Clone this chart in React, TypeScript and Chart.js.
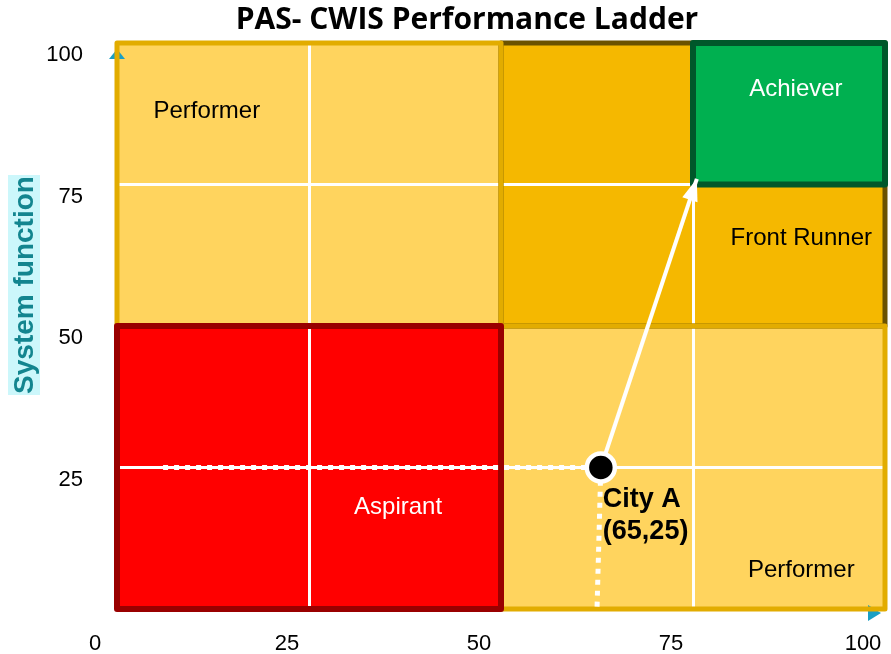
import React, { useEffect, useRef } from 'react';
import { Chart, registerables } from 'chart.js';

Chart.register(...registerables);

// ---- data ----
const chartTitle = 'PAS- CWIS Performance Ladder';
const yAxisTitle = 'System function';
const xTickLabels = ['0', '25', '50', '75', '100'];
const yTickLabels = ['', '25', '50', '75', '100'];
const gridValues = [25, 75];

const zoneNames = ['Front Runner', 'Performer', 'Performer', 'Aspirant', 'Achiever'];
const zoneXMin = [50, 0, 50, 0, 75];
const zoneXMax = [100, 50, 100, 50, 100];
const zoneYMin = [50, 50, 0, 0, 75];
const zoneYMax = [100, 100, 50, 50, 100];
const zoneLabelX = [89.1, 11.7, 89.1, 36.6, 88.4];
const zoneLabelY = [65.5, 88.0, 6.9, 18.0, 91.8];

const cityName = 'City A';
const cityLabel = '(65,25)';
const cityX = [63];
const cityY = [25];
const guideX = [6, 63, 62.5];
const guideY = [25, 25, 0];
const arrowX = [63, 75.5];
const arrowY = [25, 76];

// ---- styles ----
const zoneFill = ['#F5B800', '#FFD45E', '#FFD45E', '#FF0000', '#00B050'];
const zoneStroke = ['#6B5200', '#E2AC00', '#E2AC00', '#990000', '#00572A'];
const zoneStrokeW = [5, 5, 5, 6, 6];
const zoneTextColor = ['#000000', '#000000', '#000000', '#FFFFFF', '#FFFFFF'];
const LABEL_FONT = '"Liberation Sans", Arial, sans-serif';

const topZone = zoneNames.indexOf('Achiever');

function zoneRect(chart: any, i: number) {
  const { x, y } = chart.scales;
  const x0 = x.getPixelForValue(zoneXMin[i]);
  const x1 = x.getPixelForValue(zoneXMax[i]);
  const y0 = y.getPixelForValue(zoneYMax[i]);
  const y1 = y.getPixelForValue(zoneYMin[i]);
  return [x0, y0, x1 - x0, y1 - y0];
}

function fillZone(ctx: CanvasRenderingContext2D, chart: any, i: number) {
  const [rx, ry, rw, rh] = zoneRect(chart, i);
  ctx.fillStyle = zoneFill[i];
  ctx.fillRect(rx, ry, rw, rh);
}

function strokeZone(ctx: CanvasRenderingContext2D, chart: any, i: number) {
  const [rx, ry, rw, rh] = zoneRect(chart, i);
  ctx.strokeStyle = zoneStroke[i];
  ctx.lineWidth = zoneStrokeW[i];
  ctx.lineJoin = 'round';
  ctx.strokeRect(rx, ry, rw, rh);
}

const ladderPlugin = {
  id: 'ladder',
  beforeDraw(chart: any) {
    const ctx: CanvasRenderingContext2D = chart.ctx;
    ctx.save();
    for (let i = 0; i < zoneNames.length; i++) {
      if (i === topZone) continue;
      fillZone(ctx, chart, i);
    }
    ctx.restore();
  },
  beforeDatasetsDraw(chart: any) {
    const ctx: CanvasRenderingContext2D = chart.ctx;
    const area = chart.chartArea;
    ctx.save();
    // axis arrow heads
    ctx.fillStyle = '#1A9FC4';
    ctx.beginPath();
    ctx.moveTo(area.left, area.top + 6);
    ctx.lineTo(area.left - 8, area.top + 16);
    ctx.lineTo(area.left + 8, area.top + 16);
    ctx.closePath();
    ctx.fill();
    ctx.beginPath();
    ctx.moveTo(area.right - 4, area.bottom + 4);
    ctx.lineTo(area.right - 17, area.bottom - 4);
    ctx.lineTo(area.right - 17, area.bottom + 12);
    ctx.closePath();
    ctx.fill();
    for (let i = 0; i < zoneNames.length; i++) {
      if (i === topZone) continue;
      strokeZone(ctx, chart, i);
    }
    fillZone(ctx, chart, topZone);
    strokeZone(ctx, chart, topZone);
    ctx.restore();
  },
  afterDatasetsDraw(chart: any) {
    const ctx: CanvasRenderingContext2D = chart.ctx;
    const { x, y } = chart.scales;
    ctx.save();
    // arrow head
    const meta = chart.getDatasetMeta(1);
    const p0 = meta.data[0];
    const p1 = meta.data[meta.data.length - 1];
    const ang = Math.atan2(p1.y - p0.y, p1.x - p0.x);
    const len = 22;
    const hw = 8;
    ctx.fillStyle = '#FFFFFF';
    ctx.beginPath();
    ctx.moveTo(p1.x, p1.y);
    ctx.lineTo(
      p1.x - len * Math.cos(ang) + hw * Math.sin(ang),
      p1.y - len * Math.sin(ang) - hw * Math.cos(ang)
    );
    ctx.lineTo(
      p1.x - len * Math.cos(ang) - hw * Math.sin(ang),
      p1.y - len * Math.sin(ang) + hw * Math.cos(ang)
    );
    ctx.closePath();
    ctx.fill();

    // zone labels
    ctx.font = `24px ${LABEL_FONT}`;
    ctx.textAlign = 'center';
    ctx.textBaseline = 'middle';
    for (let i = 0; i < zoneNames.length; i++) {
      ctx.fillStyle = zoneTextColor[i];
      ctx.fillText(zoneNames[i], x.getPixelForValue(zoneLabelX[i]), y.getPixelForValue(zoneLabelY[i]));
    }

    // city label
    const cx = x.getPixelForValue(cityX[0]);
    const cy = y.getPixelForValue(cityY[0]);
    ctx.font = `bold 27px ${LABEL_FONT}`;
    ctx.fillStyle = '#000000';
    ctx.textAlign = 'left';
    ctx.fillText(cityName, cx + 2, cy + 32);
    ctx.fillText(cityLabel, cx + 2, cy + 64);

    // chart title
    ctx.font = 'bold 30px "Open Sans", sans-serif';
    ctx.textAlign = 'center';
    ctx.fillText(chartTitle, 467, 20);

    // y axis title with background
    ctx.fillStyle = '#CCF7FB';
    ctx.fillRect(8, 175, 32, 220);
    ctx.translate(24, 285);
    ctx.rotate(-Math.PI / 2);
    ctx.font = `bold 28px ${LABEL_FONT}`;
    ctx.fillStyle = '#13858F';
    ctx.fillText(yAxisTitle, 0, 1);
    ctx.restore();
  },
};

const gridColor = (c: any) =>
  c.tick && gridValues.includes(c.tick.value) ? '#FFFFFF' : 'rgba(0,0,0,0)';

export default function App() {
  const ref = useRef<HTMLCanvasElement>(null);

  useEffect(() => {
    if (!ref.current) return;
    const chart = new Chart(ref.current, {
      type: 'scatter',
      data: {
        datasets: [
          {
            label: cityName,
            data: cityX.map((v, i) => ({ x: v, y: cityY[i] })),
            pointRadius: 14,
            pointBackgroundColor: '#000000',
            pointBorderColor: '#FFFFFF',
            pointBorderWidth: 4.5,
            showLine: false,
          },
          {
            label: 'arrow',
            data: arrowX.map((v, i) => ({ x: v, y: arrowY[i] })),
            showLine: true,
            borderColor: '#FFFFFF',
            borderWidth: 4,
            pointRadius: 0,
          },
          {
            label: 'guide',
            data: guideX.map((v, i) => ({ x: v, y: guideY[i] })),
            showLine: true,
            borderColor: '#FFFFFF',
            borderWidth: 5,
            borderDash: [5, 6],
            pointRadius: 0,
          },
        ],
      },
      options: {
        animation: false,
        responsive: true,
        maintainAspectRatio: false,
        events: [],
        layout: { autoPadding: false, padding: { top: 43, right: 6, left: 0, bottom: 0 } },
        plugins: {
          legend: { display: false },
          tooltip: { enabled: false },
          title: { display: false },
        },
        scales: {
          x: {
            type: 'linear',
            min: 0,
            max: 100,
            afterFit: (s: any) => {
              s.height = 45;
              s.paddingLeft = 0;
              s.paddingRight = 0;
            },
            border: { display: false },
            grid: { color: gridColor, lineWidth: 3, drawTicks: false },
            ticks: {
              stepSize: 25,
              padding: 22,
              labelOffset: -22,
              color: '#000000',
              font: { family: LABEL_FONT, size: 22 },
              callback: (v: any) => xTickLabels[Math.round(Number(v) / 25)] ?? String(v),
            },
          },
          y: {
            type: 'linear',
            min: 0,
            max: 100,
            afterFit: (s: any) => {
              s.width = 117;
              s.paddingTop = 0;
              s.paddingBottom = 0;
            },
            border: { display: false },
            grid: { color: gridColor, lineWidth: 3, drawTicks: false },
            ticks: {
              stepSize: 25,
              padding: 34,
              labelOffset: 12,
              color: '#000000',
              font: { family: LABEL_FONT, size: 22 },
              callback: (v: any) => yTickLabels[Math.round(Number(v) / 25)] ?? String(v),
            },
          },
        },
      },
      plugins: [ladderPlugin],
    });
    return () => chart.destroy();
  }, []);

  return (
    <div style={{ position: 'fixed', left: 0, top: 0, width: 891, height: 654, background: '#FFFFFF' }}>
      <canvas ref={ref} />
    </div>
  );
}
